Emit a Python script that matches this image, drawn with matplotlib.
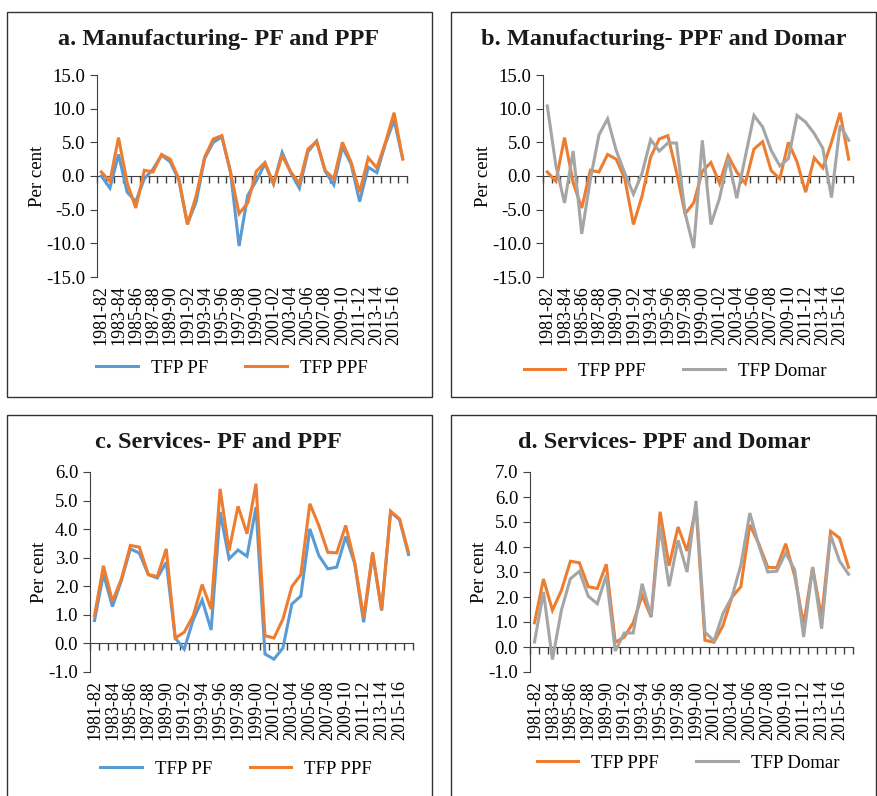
import numpy as np
import matplotlib
matplotlib.use("Agg")
import matplotlib.pyplot as plt
from matplotlib.patches import Rectangle
from matplotlib.ticker import FormatStrFormatter

plt.rcParams['font.family'] = ['Liberation Serif', 'DejaVu Serif']
plt.rcParams['axes.unicode_minus'] = False

# years 1981-82 .. 2016-17
years = ["%d-%02d" % (y, (y + 1) % 100) for y in range(1981, 2017)]

# manufacturing TFP growth (per cent)
mfg_pf = [0.0, -1.8, 3.2, -2.4, -3.8, -0.4, 1.0, 3.1, 2.1, -0.6,
          -7.1, -3.9, 2.6, 5.0, 5.8, 0.6, -10.4, -2.9, -0.7, 1.8,
          -1.2, 3.5, 0.5, -1.8, 3.6, 5.2, 0.7, -1.3, 4.3, 1.8,
          -3.8, 1.3, 0.5, 4.8, 8.3, 2.6]
mfg_ppf = [0.6, -0.8, 5.7, -1.0, -4.75, 0.85, 0.6, 3.2, 2.5, -0.4,
           -7.2, -3.0, 2.8, 5.5, 6.0, 0.6, -5.6, -4.0, 0.7, 2.0,
           -1.1, 3.0, 0.6, -1.1, 4.0, 5.1, 0.8, -0.4, 5.0, 2.1,
           -2.4, 2.7, 1.2, 5.0, 9.4, 2.5]
mfg_domar = [10.4, 1.5, -4.0, 3.7, -8.6, -0.5, 6.1, 8.5, 3.8, 0.4,
             -2.7, 0.4, 5.4, 3.7, 4.9, 4.9, -5.5, -10.7, 5.3, -7.2,
             -3.3, 2.6, -3.3, 2.9, 9.0, 7.3, 3.8, 1.5, 2.6, 9.0,
             8.0, 6.3, 4.1, -3.2, 7.5, 5.3]

# services TFP growth (per cent)
srv_pf = [0.8, 2.43, 1.29, 2.2, 3.31, 3.16, 2.41, 2.29, 2.84, 0.19,
          -0.2, 0.82, 1.52, 0.47, 4.6, 2.96, 3.27, 3.05, 4.77, -0.37,
          -0.55, -0.16, 1.38, 1.66, 4.01, 3.08, 2.61, 2.67, 3.74, 2.8,
          0.74, 3.13, 1.15, 4.6, 4.33, 3.11]
srv_ppf = [0.97, 2.72, 1.47, 2.26, 3.43, 3.37, 2.41, 2.34, 3.31, 0.19,
           0.39, 0.97, 2.06, 1.2, 5.41, 3.25, 4.8, 3.84, 5.59, 0.27,
           0.19, 0.85, 1.99, 2.41, 4.89, 4.13, 3.19, 3.17, 4.13, 2.84,
           0.9, 3.19, 1.17, 4.63, 4.36, 3.19]
srv_domar = [0.2, 2.2, -0.5, 1.47, 2.73, 3.03, 2.03, 1.73, 2.87, -0.16,
             0.56, 0.56, 2.53, 1.2, 4.83, 2.43, 4.27, 3.0, 5.84, 0.6,
             0.24, 1.33, 2.0, 3.27, 5.36, 4.07, 3.0, 3.03, 3.76, 3.09,
             0.4, 3.2, 0.73, 4.47, 3.44, 2.91]

BLUE = '#5B9BD5'
ORANGE = '#ED7D31'
GREY = '#A5A5A5'
AXC = '#404040'

W, H = 877, 796
fig = plt.figure(figsize=(W / 100, H / 100), dpi=100)


def fx(px):
    return px / W


def fy(py):
    return 1 - py / H


def panel(rect, title, title_xy, series, ylim, ystep, leg_xy):
    l, t, r, b = rect
    ax = fig.add_axes([fx(l), fy(b), fx(r - l), (b - t) / H])
    x = np.arange(len(years))
    for vals, col, lab in series:
        ax.plot(x, vals, color=col, lw=2.2, label=lab, solid_joinstyle='miter')
    ax.set_xlim(-0.5, len(years) - 0.5)
    ax.set_ylim(*ylim)
    ax.set_yticks(np.arange(ylim[0], ylim[1] + 0.01, ystep))
    ax.yaxis.set_major_formatter(FormatStrFormatter('%.1f'))
    ax.set_xticks(x[::2])
    ax.set_xticklabels(years[::2], rotation=90)
    for s in ['top', 'right', 'bottom']:
        ax.spines[s].set_visible(False)
    ax.spines['left'].set_color(AXC)
    ax.tick_params(axis='x', length=0, pad=6, labelsize=13)
    ax.tick_params(axis='y', direction='out', length=5, color=AXC, labelsize=13.5)
    ax.set_ylabel('Per cent', fontsize=13.5, labelpad=0)
    # category axis drawn along zero
    sec = ax.secondary_xaxis(0, transform=ax.transData)
    sec.set_xticks(np.arange(-0.5, len(years), 1.0))
    sec.tick_params(axis='x', direction='out', length=5, width=1, color=AXC,
                    labelbottom=False, labeltop=False)
    sec.spines['bottom'].set_color(AXC)
    sec.spines['top'].set_color(AXC)
    fig.text(fx(title_xy[0]), fy(title_xy[1]), title, ha='center', va='center',
             fontsize=17.5, fontweight='bold', color='#1a1a1a')
    fig.legend(handles=ax.get_lines(), loc='center', ncol=2, frameon=False,
               bbox_to_anchor=(fx(leg_xy[0]), fy(leg_xy[1])), fontsize=13.5,
               handlelength=2.2, handletextpad=0.7, columnspacing=2.0)
    return ax


# panel borders
for (x0, y0, x1, y1) in [(7, 12, 432, 397), (451, 12, 876, 397),
                         (7, 415, 432, 810), (451, 415, 876, 810)]:
    fig.patches.append(Rectangle((fx(x0), fy(y1)), fx(x1 - x0), (y1 - y0) / H,
                                 transform=fig.transFigure, fill=False,
                                 edgecolor='#333333', lw=1.0))

panel((97, 75, 407, 277), 'a. Manufacturing- PF and PPF', (219, 39),
      [(mfg_pf, BLUE, 'TFP PF'), (mfg_ppf, ORANGE, 'TFP PPF')],
      (-15, 15), 5, (232, 368))
panel((543, 75, 853, 277), 'b. Manufacturing- PPF and Domar', (664, 39),
      [(mfg_ppf, ORANGE, 'TFP PPF'), (mfg_domar, GREY, 'TFP Domar')],
      (-15, 15), 5, (675, 371))
panel((90, 472, 413, 672), 'c. Services- PF and PPF', (218, 443),
      [(srv_pf, BLUE, 'TFP PF'), (srv_ppf, ORANGE, 'TFP PPF')],
      (-1, 6), 1, (236, 769))
panel((530, 472, 853, 672), 'd. Services- PPF and Domar', (664, 443),
      [(srv_ppf, ORANGE, 'TFP PPF'), (srv_domar, GREY, 'TFP Domar')],
      (-1, 7), 1, (688, 763))

fig.savefig('out.png', dpi=100)
